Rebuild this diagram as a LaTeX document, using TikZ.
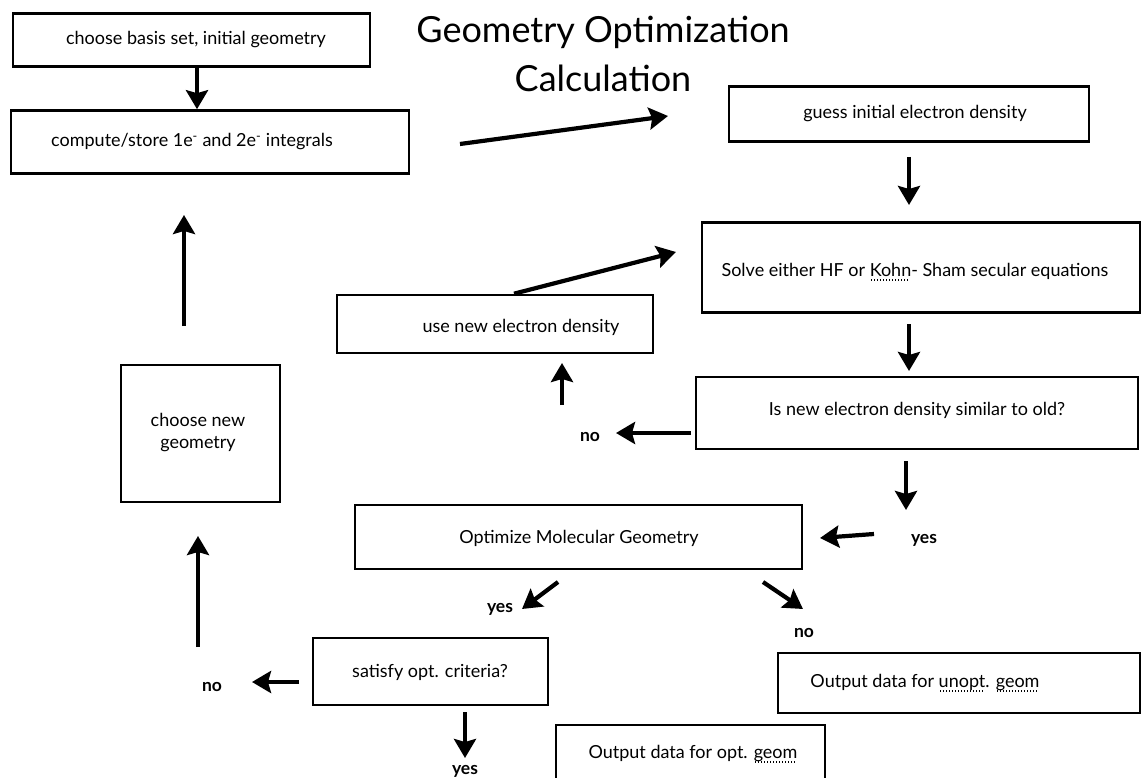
\documentclass[tikz,border=0pt]{standalone}
\usepackage{fontspec}
\setmainfont{Lato}
\usetikzlibrary{arrows.meta}
\newcommand\dotu[1]{\setbox0=\hbox{#1}\rlap{\raisebox{-4pt}{\hbox to \wd0{\leaders\hbox to 3pt{\hss\rule{1.2pt}{1.2pt}\hss}\hfill}}}\box0}
\begin{document}
\begin{tikzpicture}[x=1pt,y=-1pt,
  box/.style={draw, line width=2.6pt, inner sep=0pt},
  txt/.style={font=\fontsize{18}{22}\selectfont, inner sep=0pt, align=center},
  lbl/.style={font=\bfseries\fontsize{17.5}{20}\selectfont, inner sep=1pt},
  arr/.style={line width=4.2pt, -{Stealth[length=19pt,width=22pt,inset=3pt]}},
  ]
\useasboundingbox (0,0) rectangle (1141,778);
% title
\node[font=\fontsize{36}{49}\selectfont, align=center, inner sep=0pt] (title) at (603,54) {Geometry Optimization\\Calculation};
% boxes
\node[box, minimum width=357pt, minimum height=53pt] (b1) at (191.5,40) {};
\node[txt] (t1) at (196,40) {choose basis set, initial geometry};
\node[box, minimum width=398pt, minimum height=63pt] (b2) at (210,142) {};
\node[txt] (t2) at (192,142) {compute/store 1e\textsuperscript{-} and 2e\textsuperscript{-} integrals};
\node[box, minimum width=360pt, minimum height=55pt] (b3) at (909,114) {};
\node[txt] (t3) at (915,114) {guess initial electron density};
\node[box, minimum width=438pt, minimum height=90pt] (b4) at (921,267.5) {};
\node[txt] (t4) at (915,272) {Solve either HF or \dotu{Kohn}- Sham secular equations};
\node[box, minimum width=316pt, minimum height=58pt] (b5) at (495,324) {};
\node[txt] (t5) at (521,327) {use new electron density};
\node[box, minimum width=442pt, minimum height=72pt] (b6) at (917,413) {};
\node[txt] (t6) at (917,410) {Is new electron density similar to old?};
\node[box, minimum width=447pt, minimum height=64pt] (b7) at (578.5,537) {};
\node[txt] (t7) at (579,538) {Optimize Molecular Geometry};
\node[box, minimum width=159pt, minimum height=137pt] (b11) at (200.5,433.5) {};
\node[txt] (t11) at (198,433) {choose new\\geometry};
\node[box, minimum width=235pt, minimum height=67pt] (b10) at (430.5,671.5) {};
\node[txt] (t10) at (430,672) {satisfy opt. criteria?};
\node[box, minimum width=362pt, minimum height=60pt] (b8) at (959,683) {};
\node[txt] (t8) at (925,683) {Output data for \dotu{unopt}. \dotu{geom}};
\node[box, minimum width=269pt, minimum height=70pt] (b9) at (690.5,760) {};
\node[txt] (t9) at (693,754) {Output data for opt. \dotu{geom}};
% labels
\node[lbl] (no1) at (590,437) {no};
\node[lbl] (yes1) at (924,540) {yes};
\node[lbl] (yes2) at (500,609) {yes};
\node[lbl] (no2) at (804,633) {no};
\node[lbl] (no3) at (212,687) {no};
\node[lbl] (yes3) at (465,771) {yes};
% arrow ends
\coordinate (a2s) at (460,144); \coordinate (a2e) at (668,116);
\coordinate (a3s) at (909,157); \coordinate (a3e) at (909,205);
\coordinate (a4s) at (909,324); \coordinate (a4e) at (909,371);
\coordinate (a5e) at (676,252);
\coordinate (a6s) at (562,405); \coordinate (a6e) at (562,363);
\coordinate (a7s) at (691,433); \coordinate (a7e) at (616,433);
\coordinate (a8s) at (906,461); \coordinate (a8e) at (906,510);
\coordinate (a9s) at (874,534); \coordinate (a9e) at (820,538);
\coordinate (a10s) at (558,582); \coordinate (a10e) at (522,609);
\coordinate (a11s) at (763,582); \coordinate (a11e) at (803,609);
\coordinate (a12s) at (299,682); \coordinate (a12e) at (252,682);
\coordinate (a13s) at (465,712); \coordinate (a13e) at (465,758);
\coordinate (a14s) at (198,647); \coordinate (a14e) at (198,536);
\coordinate (a15s) at (184,326); \coordinate (a15e) at (184,215);
% arrows
\draw[arr] (b1.south -| 197,0) -- (b2.north -| 197,0);
\draw[arr] (a2s) -- (a2e);
\draw[arr] (a3s) -- (a3e);
\draw[arr] (a4s) -- (a4e);
\draw[arr] (b5.north -| 514,0) -- (a5e);
\draw[arr] (a6s) -- (a6e);
\draw[arr] (a7s) -- (a7e);
\draw[arr] (a8s) -- (a8e);
\draw[arr] (a9s) -- (a9e);
\draw[arr] (a10s) -- (a10e);
\draw[arr] (a11s) -- (a11e);
\draw[arr] (a12s) -- (a12e);
\draw[arr] (a13s) -- (a13e);
\draw[arr] (a14s) -- (a14e);
\draw[arr] (a15s) -- (a15e);
\end{tikzpicture}
\end{document}
